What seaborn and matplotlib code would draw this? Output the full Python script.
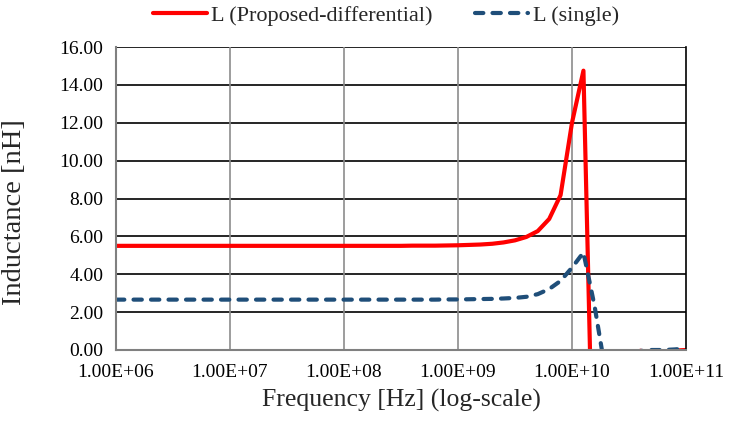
import numpy as np
import pandas as pd
import seaborn as sns
import matplotlib.pyplot as plt
from matplotlib.ticker import FuncFormatter

# =============================================================================
# DATA (10 points per decade)
# =============================================================================

FREQ_HZ = [
    1.00e6, 1.26e6, 1.58e6, 2.00e6, 2.51e6, 3.16e6, 3.98e6, 5.01e6, 6.31e6, 7.94e6,
    1.00e7, 1.26e7, 1.58e7, 2.00e7, 2.51e7, 3.16e7, 3.98e7, 5.01e7, 6.31e7, 7.94e7,
    1.00e8, 1.26e8, 1.58e8, 2.00e8, 2.51e8, 3.16e8, 3.98e8, 5.01e8, 6.31e8, 7.94e8,
    1.00e9, 1.26e9, 1.58e9, 2.00e9, 2.51e9, 3.16e9, 3.98e9, 5.01e9, 6.31e9, 7.94e9,
    1.00e10, 1.26e10, 1.58e10, 2.00e10, 2.51e10, 3.16e10, 3.98e10, 5.01e10, 6.31e10, 7.94e10,
    1.00e11,
]

L_DIFF = [
    5.50, 5.50, 5.50, 5.50, 5.50, 5.50, 5.50, 5.50, 5.50, 5.50,
    5.50, 5.50, 5.50, 5.50, 5.50, 5.50, 5.50, 5.50, 5.50, 5.50,
    5.50, 5.50, 5.50, 5.50, 5.50, 5.50, 5.51, 5.51, 5.51, 5.52,
    5.53, 5.55, 5.57, 5.61, 5.68, 5.79, 5.97, 6.28, 6.92, 8.18,
    12.00, 14.75, -10.50, -4.20, -2.10, -0.90, -0.04, -0.15, -0.10, -0.03,
    0.00,
]

L_SINGLE = [
    2.66, 2.66, 2.66, 2.66, 2.66, 2.66, 2.66, 2.66, 2.66, 2.66,
    2.66, 2.66, 2.66, 2.66, 2.66, 2.66, 2.66, 2.66, 2.66, 2.66,
    2.66, 2.66, 2.66, 2.66, 2.66, 2.66, 2.66, 2.66, 2.66, 2.67,
    2.67, 2.68, 2.69, 2.70, 2.72, 2.75, 2.81, 2.95, 3.22, 3.65,
    4.35, 5.15, 2.30, -1.40, -0.90, -0.50, -0.05, 0.00, 0.00, 0.03,
    0.08,
]

SERIES_NAMES = ["L (Proposed-differential)", "L (single)"]
X_TICKS = [1e6, 1e7, 1e8, 1e9, 1e10, 1e11]
Y_TICKS = [0, 2, 4, 6, 8, 10, 12, 14, 16]

# =============================================================================
# PLOT
# =============================================================================

df = pd.concat(
    [
        pd.DataFrame({"Frequency": FREQ_HZ, "L": L_DIFF, "Series": SERIES_NAMES[0]}),
        pd.DataFrame({"Frequency": FREQ_HZ, "L": L_SINGLE, "Series": SERIES_NAMES[1]}),
    ],
    ignore_index=True,
)

sns.set_style("white")
plt.rcParams["font.family"] = ["Liberation Serif", "DejaVu Serif"]

palette = {SERIES_NAMES[0]: "#FF0000", SERIES_NAMES[1]: "#1F4E79"}
dashes = {SERIES_NAMES[0]: "", SERIES_NAMES[1]: (2.0, 2.2)}

fig = plt.figure(figsize=(7.3, 4.25), dpi=100)
ax = fig.add_axes([116 / 730, 1 - 350 / 425, 570 / 730, 303 / 425])

sns.lineplot(
    data=df,
    x="Frequency",
    y="L",
    hue="Series",
    style="Series",
    palette=palette,
    dashes=dashes,
    linewidth=3,
    ax=ax,
    legend=False,
)
for line in ax.get_lines():
    line.set_dash_capstyle("round")
    line.set_solid_capstyle("butt")

ax.set_xscale("log")
ax.set_xlim(1e6, 1e11)
ax.set_ylim(0, 16)
ax.set_xticks(X_TICKS)
ax.set_yticks(Y_TICKS)
ax.minorticks_off()
ax.xaxis.set_major_formatter(
    FuncFormatter(lambda v, p: "1.00E+%02d" % int(round(np.log10(v))))
)
ax.yaxis.set_major_formatter(FuncFormatter(lambda v, p: "%.2f" % v))

# gridlines: black horizontal, gray vertical
ax.grid(False)
for yv in Y_TICKS[1:]:
    ax.axhline(yv, color="black", linewidth=1.2, zorder=0)
for xv in X_TICKS[1:-1]:
    ax.axvline(xv, color="#8C8C8C", linewidth=1.2, zorder=0)

for side in ["left", "bottom"]:
    ax.spines[side].set_color("#808080")
    ax.spines[side].set_linewidth(1.5)
ax.spines["top"].set_visible(False)
ax.spines["right"].set_color("black")
ax.spines["right"].set_linewidth(1.2)

ax.tick_params(axis="both", which="major", labelsize=14, colors="black",
               length=5, width=1.2, direction="out")
ax.tick_params(axis="x", color="#808080", pad=5)
ax.tick_params(axis="y", color="#808080", pad=4)

ax.set_xlabel("Frequency [Hz] (log-scale)", fontsize=18.5, labelpad=6)
ax.set_ylabel("Inductance [nH]", fontsize=20.5)
ax.yaxis.set_label_coords(-0.156, 0.455)

# legend above the plot area
handles = [
    plt.Line2D([], [], color=palette[SERIES_NAMES[0]], linewidth=3),
    plt.Line2D([], [], color=palette[SERIES_NAMES[1]], linewidth=3,
               dashes=(2.0, 2.2), dash_capstyle="round"),
]
fig.legend(
    handles,
    SERIES_NAMES,
    loc="center",
    bbox_to_anchor=(386 / 730, 0.963),
    ncol=2,
    frameon=False,
    fontsize=16,
    handlelength=2.4,
    columnspacing=1.9,
    handletextpad=0.2,
)

fig.savefig("out.png", dpi=100)
plt.close(fig)
